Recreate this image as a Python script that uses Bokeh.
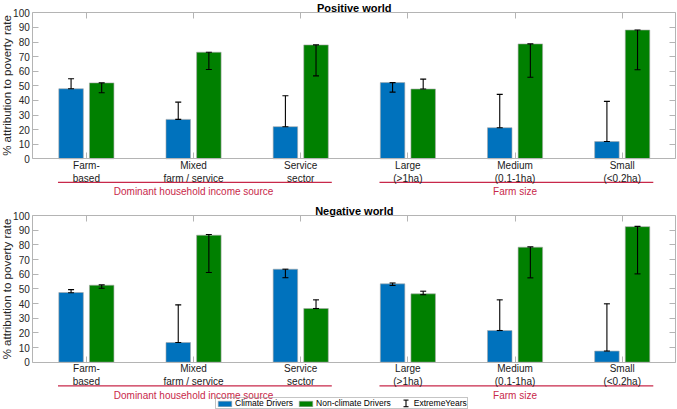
import numpy as np
from bokeh.plotting import figure
from bokeh.models import (Range1d, LinearAxis, FixedTicker, ColumnDataSource,
                          Legend, LegendItem)
from bokeh.layouts import column
from bokeh.embed import file_html
from bokeh.resources import INLINE
from bokeh.core.properties import value

# ---------------- data ----------------
categories = ["Farm-\nbased", "Mixed\nfarm / service", "Service\nsector",
              "Large\n(>1ha)", "Medium\n(0.1-1ha)", "Small\n(<0.2ha)"]
group_names = ["Dominant household income source", "Farm size"]
group_members = [[0, 1, 2], [3, 4, 5]]
series_names = ["Climate Drivers", "Non-climate Drivers", "ExtremeYears"]
panel_titles = ["Positive world", "Negative world"]
y_ticks = list(range(0, 101, 10))
y_label = "% attribution to poverty rate"

# Positive world
pos_climate    = [48.0, 27.0, 22.0, 52.2, 21.3, 11.8]
pos_climate_lo = [48.0, 27.0, 22.0, 45.7, 21.3, 11.8]
pos_climate_hi = [54.8, 38.8, 43.2, 52.2, 44.1, 39.3]
pos_nonclim    = [52.0, 73.0, 78.0, 47.8, 78.7, 88.2]
pos_nonclim_lo = [45.2, 61.2, 56.8, 47.8, 55.9, 61.0]
pos_nonclim_hi = [52.0, 73.0, 78.0, 54.6, 78.7, 88.2]

# Negative world
neg_climate    = [47.5, 13.4, 63.4, 53.4, 21.6, 7.6]
neg_climate_lo = [47.3, 13.4, 57.6, 52.3, 21.6, 7.6]
neg_climate_hi = [49.5, 39.1, 63.4, 54.0, 42.5, 39.8]
neg_nonclim    = [52.5, 86.6, 36.6, 46.6, 78.4, 92.4]
neg_nonclim_lo = [50.4, 61.1, 36.6, 46.0, 57.5, 60.2]
neg_nonclim_hi = [52.7, 87.0, 42.5, 48.4, 78.6, 92.6]

# ---------------- style ----------------
FONT = "Liberation Sans"
AX = "#b4b4b4"
RED = "#c8284a"
BLUE = "#0072BD"
GREEN = "#008000"
EDGE = "#a8a8a8"
W = 677
XL, XR = 32.3, 675.3          # pixel position of the axes box edges
GROUP_W = 2 / 3.5             # MATLAB grouped-bar geometry
OFF = GROUP_W / 4
BW = GROUP_W / 2 * 0.8


def panel(title, c, clo, chi, n, nlo, nhi, H, ypx100, ypx0, with_legend):
    kx = (XR - XL) / 6.0
    ky = (ypx0 - ypx100) / 100.0
    x0 = 0.5 - XL / kx
    y0 = -(H - ypx0) / ky
    y1 = 100 + ypx100 / ky
    p = figure(width=W, height=H, x_range=Range1d(x0, 6.5 + (W - XR) / kx),
               y_range=Range1d(y0, y1),
               x_axis_type=None, y_axis_type=None, toolbar_location=None,
               output_backend="svg", min_border=0, outline_line_color=None,
               background_fill_color="white", border_fill_color="white")

    xc = np.arange(1, len(categories) + 1, dtype=float)
    src = ColumnDataSource(dict(xc=xc - OFF, xn=xc + OFF, c=c, clo=clo, chi=chi,
                                n=n, nlo=nlo, nhi=nhi))
    rc = p.vbar(x="xc", top="c", bottom=0, width=BW, source=src,
                fill_color=BLUE, line_color=EDGE, line_width=0.6)
    rn = p.vbar(x="xn", top="n", bottom=0, width=BW, source=src,
                fill_color=GREEN, line_color=EDGE, line_width=0.6)
    for xk, lo, hi in (("xc", "clo", "chi"), ("xn", "nlo", "nhi")):
        p.segment(x0=xk, y0=lo, x1=xk, y1=hi, source=src,
                  line_color="black", line_width=1.1)
        p.scatter(x=xk, y=lo, marker="dash", size=6, source=src,
                  line_color="black", line_width=1.1)
        p.scatter(x=xk, y=hi, marker="dash", size=6, source=src,
                  line_color="black", line_width=1.1)

    # axes (box)
    left = LinearAxis(fixed_location=0.5, bounds=(0, 100),
                      ticker=FixedTicker(ticks=y_ticks),
                      major_tick_in=6, major_tick_out=0,
                      minor_tick_line_color=None,
                      axis_line_color=AX, major_tick_line_color=AX,
                      major_label_text_font=FONT,
                      major_label_text_font_size="10px",
                      major_label_text_color="#262626",
                      major_label_standoff=3,
                      axis_label=y_label,
                      axis_label_text_font=FONT,
                      axis_label_text_font_size="11.5px",
                      axis_label_text_font_style="normal",
                      axis_label_text_color="#262626",
                      axis_label_standoff=-3)
    p.add_layout(left, "left")
    right = LinearAxis(fixed_location=6.5, bounds=(0, 100),
                       ticker=FixedTicker(ticks=y_ticks),
                       major_tick_in=6, major_tick_out=0,
                       minor_tick_line_color=None,
                       axis_line_color=AX, major_tick_line_color=AX,
                       major_label_text_color=None)
    p.add_layout(right, "right")
    bottom = LinearAxis(fixed_location=0, bounds=(0.5, 6.5),
                        ticker=FixedTicker(ticks=list(xc)),
                        major_label_overrides={i + 1: lab for i, lab in enumerate(categories)},
                        major_tick_in=6, major_tick_out=0,
                        minor_tick_line_color=None,
                        axis_line_color=AX, major_tick_line_color=AX,
                        major_label_text_font=FONT,
                        major_label_text_font_size="10px",
                        major_label_text_color="#1a1a1a",
                        major_label_standoff=1)
    p.add_layout(bottom, "below")
    top = LinearAxis(fixed_location=100, bounds=(0.5, 6.5),
                     ticker=FixedTicker(ticks=list(xc)),
                     major_tick_in=6, major_tick_out=0,
                     minor_tick_line_color=None,
                     axis_line_color=AX, major_tick_line_color=AX,
                     major_label_text_color=None)
    p.add_layout(top, "above")

    # title
    p.text(x=[3.5], y=[100 + 5.0 / ky], text=[title],
           text_font=value(FONT), text_font_size="11px", text_font_style="bold",
           text_align="center", text_baseline="alphabetic", text_color="black")

    # group labels (red)
    gx = [np.mean(np.array(m) + 1) for m in group_members]
    gx0 = [min(m) + 1 - 0.265 for m in group_members]
    gx1 = [max(m) + 1 + 0.29 for m in group_members]
    p.segment(x0=gx0, y0=[-23.6 / ky] * 2, x1=gx1, y1=[-23.6 / ky] * 2,
              line_color=RED, line_width=1.2)
    p.text(x=gx, y=[-33.0 / ky] * 2, text=group_names,
           text_font=value(FONT), text_font_size="10px", text_color=RED,
           text_align="center", text_baseline="alphabetic")

    if with_legend:
        # "I" symbol of the ExtremeYears legend entry (legend background is transparent)
        ix = 0.5 + (405.5 - XL) / kx
        iy_top = (ypx0 - 199.6) / ky
        iy_bot = (ypx0 - 206.2) / ky
        p.segment(x0=[ix], y0=[iy_bot], x1=[ix], y1=[iy_top],
                  line_color="black", line_width=1.1)
        p.scatter(x=[ix, ix], y=[iy_bot, iy_top], marker="dash", size=5,
                  line_color="black", line_width=1.1)
        proxy = p.scatter(x=[np.nan], y=[np.nan], marker="dash",
                          size=6, line_color="black", line_alpha=0)
        legend = Legend(items=[LegendItem(label=series_names[0], renderers=[rc]),
                               LegendItem(label=series_names[1], renderers=[rn]),
                               LegendItem(label=series_names[2], renderers=[proxy])],
                        orientation="horizontal", location=(215, 0),
                        glyph_width=17, glyph_height=7, label_standoff=2,
                        spacing=4, padding=0, margin=0,
                        label_height=7,
                        label_text_font=FONT, label_text_font_size="8.5px",
                        label_text_color="black",
                        border_line_color="#8c8c8c", border_line_width=1,
                        background_fill_alpha=0)
        p.add_layout(legend, "center")
    return p


p1 = panel(panel_titles[0], pos_climate, pos_climate_lo, pos_climate_hi,
           pos_nonclim, pos_nonclim_lo, pos_nonclim_hi, 200, 12.3, 158.3, False)
p2 = panel(panel_titles[1], neg_climate, neg_climate_lo, neg_climate_hi,
           neg_nonclim, neg_nonclim_lo, neg_nonclim_hi, 209, 15.0, 161.7, True)

layout = column(p1, p2, spacing=0)
open("out.html", "w").write(file_html(layout, INLINE))
